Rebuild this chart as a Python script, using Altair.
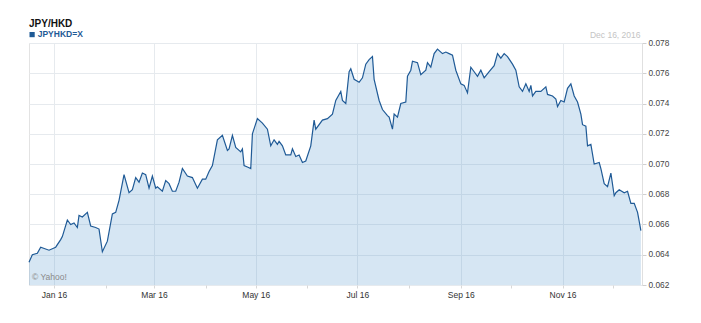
import altair as alt
import pandas as pd

# day offsets from 2016-01-01 and JPY/HKD rates
day_offsets = [
    -15, -13, -10, -8, -3, 1, 4, 5, 8, 10,
    12, 14, 15, 17, 20, 22, 25, 27, 29, 32,
    35, 37, 39, 42, 45, 47, 49, 51, 53, 55,
    57, 59, 61, 62, 65, 67, 69, 71, 73, 75,
    77, 80, 83, 86, 89, 91, 93, 95, 98, 101,
    104, 105, 107, 109, 112, 113, 114, 116, 118, 119,
    122, 125, 128, 130, 132, 134, 135, 137, 139, 142,
    143, 145, 147, 149, 151, 154, 156, 157, 161, 164,
    167, 169, 172, 173, 175, 177, 178, 180, 183, 185,
    187, 189, 191, 192, 195, 197, 200, 201, 203, 204,
    206, 208, 211, 212, 214, 215, 218, 220, 223, 224,
    226, 228, 230, 233, 235, 237, 239, 241, 244, 246,
    248, 250, 252, 254, 256, 258, 261, 264, 266, 268,
    270, 272, 275, 277, 279, 281, 283, 285, 286, 287,
    289, 292, 295, 296, 299, 301, 302, 304, 306, 308,
    310, 312, 314, 316, 317, 319, 320, 322, 324, 327,
    328, 330, 332, 334, 336, 337, 339, 342, 344, 346,
    348, 350, 351, 352,
]
rates = [
    .0635, .0640, .0641, .0645, .0643, .0645, .0650, .0652, .0663, .0660,
    .0661, .0658, .0666, .0665, .0668, .0659, .0658, .0657, .0642, .0649,
    .0667, .0668, .0676, .0693, .0681, .0683, .0691, .0688, .0694, .0693,
    .0684, .0692, .0684, .0685, .0682, .0689, .0687, .0682, .0682, .0688,
    .0697, .0692, .0691, .0684, .0690, .0690, .0695, .0699, .0716, .0719,
    .0709, .0710, .0719, .0711, .0708, .0710, .0699, .0698, .0697, .0720,
    .0730, .0727, .0723, .0712, .0716, .0713, .0715, .0712, .0706, .0706,
    .0710, .0705, .0706, .0701, .0702, .0712, .0729, .0723, .0729, .0730,
    .0733, .0742, .0748, .0742, .0740, .0761, .0763, .0756, .0754, .0757,
    .0766, .0769, .0771, .0756, .0742, .0736, .0732, .0731, .0723, .0733,
    .0731, .0740, .0741, .0758, .0762, .0768, .0767, .0759, .0762, .0767,
    .0764, .0773, .0776, .0773, .0774, .0773, .0772, .0762, .0753, .0752,
    .0747, .0764, .0761, .0758, .0762, .0757, .0761, .0765, .0773, .0770,
    .0773, .0771, .0766, .0762, .0751, .0748, .0753, .0748, .0752, .0745,
    .0748, .0748, .0751, .0746, .0745, .0743, .0738, .0742, .0741, .0750,
    .0753, .0745, .0741, .0733, .0726, .0725, .0712, .0713, .0700, .0701,
    .0697, .0687, .0685, .0694, .0679, .0681, .0683, .0681, .0682, .0674,
    .0674, .0668, .0662, .0656,
]
y_ticks = [0.062, 0.064, 0.066, 0.068, 0.070, 0.072, 0.074, 0.076, 0.078]
month_ticks = list(range(1, 13))

title_text = "JPY/HKD"
series_name = "JPYHKD=X"
date_text = "Dec 16, 2016"
credit_text = "© Yahoo!"

df = pd.DataFrame({
    "date": pd.Timestamp("2016-01-01") + pd.to_timedelta(day_offsets, unit="D"),
    "rate": rates,
})

FONT = "Liberation Sans"
LINE = "#1f5a96"

x_enc = alt.X(
    "date:T",
    title=None,
    scale=alt.Scale(domain=[alt.DateTime(year=2015, month=12, date=17),
                            alt.DateTime(year=2016, month=12, date=18, hours=16)]),
    axis=alt.Axis(
        values=[alt.DateTime(year=2016, month=m, date=1) for m in month_ticks],
        labelExpr="month(datum.value) % 2 == 0 ? timeFormat(datum.value, '%b %y') : ''",
        grid=True,
        gridOpacity={"condition": {"test": "month(datum.value) % 2 == 0", "value": 1}, "value": 0},
        gridColor="#e6eaee",
        domain=False,
        ticks=True,
        tickSize=3,
        tickColor="#d8d8d8",
        labelPadding=2,
        labelFontSize=8.5,
        labelColor="#333333",
        labelFont=FONT,
        labelFlush=False,
    ),
)
y_enc = alt.Y(
    "rate:Q",
    title=None,
    scale=alt.Scale(domain=[0.062, 0.078], zero=False, nice=False),
    axis=alt.Axis(
        orient="right",
        values=y_ticks,
        format=".3f",
        grid=True,
        gridColor="#e6eaee",
        domain=True,
        domainColor="#e0e0e0",
        ticks=True,
        tickSize=4,
        tickColor="#d0d0d0",
        labelPadding=2,
        labelFontSize=8.3,
        labelColor="#444444",
        labelFont=FONT,
    ),
)

base = alt.Chart(df)
area = base.mark_area(fill="#5a9bd0", fillOpacity=0.25).encode(
    x=x_enc, y=y_enc, y2=alt.datum(0.062)
)
line = base.mark_line(color=LINE, strokeWidth=1.2).encode(x=x_enc, y=y_enc)

one = pd.DataFrame({"k": [0]})
title = alt.Chart(one).mark_text(
    text=title_text, font=FONT, fontSize=10, fontWeight="bold", color="#111111",
    align="left", baseline="alphabetic",
).encode(x=alt.value(0), y=alt.value(-15.8))
swatch = alt.Chart(one).mark_rect(color=LINE).encode(
    x=alt.value(0.5), x2=alt.value(5.7), y=alt.value(-11), y2=alt.value(-5.8)
)
legend = alt.Chart(one).mark_text(
    text=series_name, font=FONT, fontSize=8.5, fontWeight="bold", color=LINE,
    align="left", baseline="alphabetic",
).encode(x=alt.value(8.7), y=alt.value(-6))
date_lbl = alt.Chart(one).mark_text(
    text=date_text, font=FONT, fontSize=8.5, color="#c4c4c4",
    align="right", baseline="alphabetic",
).encode(x=alt.value(611.5), y=alt.value(-5.5))
credit = alt.Chart(one).mark_text(
    text=credit_text, font=FONT, fontSize=8.5, color="#8a8a8a",
    align="left", baseline="alphabetic",
).encode(x=alt.value(3), y=alt.value(237))

chart = alt.layer(area, line, title, swatch, legend, date_lbl, credit).properties(
    width=613,
    height=242,
    autosize="none",
    padding={"left": 29, "top": 43, "right": 59, "bottom": 38},
    background="white",
).configure_view(stroke="#e3e3e3", strokeWidth=1)

chart.save("out.html", embed_options={"renderer": "svg", "actions": False})
